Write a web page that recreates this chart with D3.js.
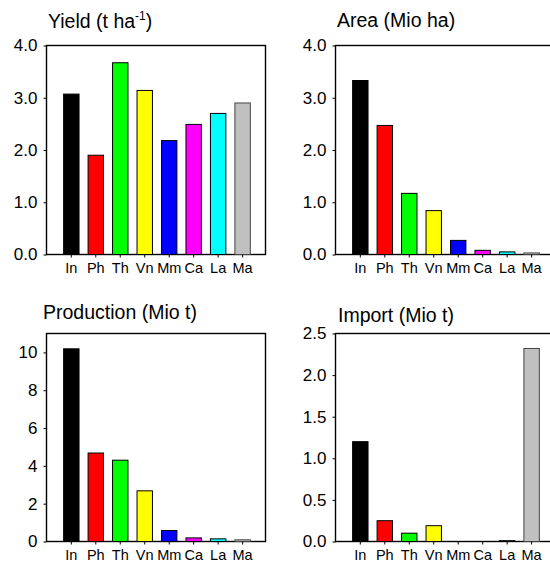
<!DOCTYPE html>
<html>
<head>
<meta charset="utf-8">
<script src="https://cdn.jsdelivr.net/npm/d3@7"></script>
<style>
  body { margin: 0; background: #fff; }
  svg { font-family: "Liberation Sans", Arial, sans-serif; }
  .axis path, .axis line { stroke: #000; }
</style>
</head>
<body>
<svg id="chart" width="550" height="569"></svg>
<script>
// categories and colours
var crops = ["In", "Ph", "Th", "Vn", "Mm", "Ca", "La", "Ma"];
var cropColors = ["#000000", "#ff0000", "#00ff00", "#ffff00", "#0000ff", "#ff00ff", "#00ffff", "#c0c0c0"];

// values
var yieldVals = [3.07, 1.90, 3.67, 3.14, 2.18, 2.49, 2.70, 2.90];
var areaVals = [3.33, 2.47, 1.17, 0.84, 0.27, 0.08, 0.05, 0.03];
var productionVals = [10.19, 4.68, 4.30, 2.68, 0.58, 0.19, 0.14, 0.09];
var importVals = [1.20, 0.25, 0.10, 0.19, 0, 0, 0.01, 2.32];

// tick labels
var yieldTicks = [0, 1, 2, 3, 4];
var areaTicks = [0, 1, 2, 3, 4];
var productionTicks = [0, 2, 4, 6, 8, 10];
var importTicks = [0, 0.5, 1.0, 1.5, 2.0, 2.5];

var svg = d3.select("#chart");

function drawPanel(opt) {
    var g = svg.append("g");

    var x = d3.scaleBand()
        .domain(crops)
        .range([opt.left, opt.right])
        .paddingInner(0.37)
        .paddingOuter(0.66)
        .align(0.53);

    var y = d3.scaleLinear()
        .domain([0, opt.max])
        .range([opt.bottom, opt.top]);

    // frame
    g.append("rect")
        .attr("x", opt.left)
        .attr("y", opt.top)
        .attr("width", opt.right - opt.left)
        .attr("height", opt.bottom - opt.top)
        .attr("fill", "none")
        .attr("stroke", "#000")
        .attr("stroke-width", 1.4);

    // bars
    g.selectAll("rect.bar")
        .data(opt.values)
        .enter()
        .append("rect")
        .classed("bar", true)
        .attr("x", (d, i) => x(crops[i]))
        .attr("y", d => y(d))
        .attr("width", x.bandwidth())
        .attr("height", d => opt.bottom - y(d))
        .attr("fill", (d, i) => cropColors[i])
        .attr("stroke", (d, i) => i == 7 ? "#444" : "#000")
        .attr("stroke-width", 1);

    // y axis
    var yAxis = d3.axisLeft(y)
        .tickValues(opt.ticks)
        .tickSize(3)
        .tickPadding(6)
        .tickFormat(d3.format(opt.fmt));
    var ya = g.append("g")
        .attr("class", "axis")
        .attr("transform", "translate(" + opt.left + ",0)")
        .call(yAxis);
    ya.select(".domain").remove();
    ya.selectAll("text")
        .attr("font-size", 17)
        .attr("font-family", "Liberation Sans, Arial, sans-serif")
        .attr("fill", "#000");

    // x axis
    var xAxis = d3.axisBottom(x)
        .tickSize(3)
        .tickPadding(5);
    var xa = g.append("g")
        .attr("class", "axis")
        .attr("transform", "translate(0," + opt.bottom + ")")
        .call(xAxis);
    xa.select(".domain").remove();
    xa.selectAll("text")
        .attr("font-size", 14.5)
        .attr("font-family", "Liberation Sans, Arial, sans-serif")
        .attr("fill", "#000");

    // title
    var t = g.append("text")
        .attr("x", opt.titleX)
        .attr("y", opt.titleY)
        .attr("font-size", 19.5)
        .attr("fill", "#000")
        .text(opt.title);
    if (opt.sup) {
        t.append("tspan")
            .attr("font-size", 12)
            .attr("dy", -8)
            .text(opt.sup);
        t.append("tspan")
            .attr("dy", 8)
            .text(")");
    }
}

drawPanel({left: 46.5, right: 265.5, top: 45.5, bottom: 254.5, max: 4,
    values: yieldVals, ticks: yieldTicks, fmt: ".1f",
    title: "Yield (t ha", sup: "-1", titleX: 48, titleY: 28});

drawPanel({left: 335.5, right: 554.5, top: 45.5, bottom: 254.5, max: 4,
    values: areaVals, ticks: areaTicks, fmt: ".1f",
    title: "Area (Mio ha)", titleX: 337, titleY: 27});

drawPanel({left: 46.5, right: 265.5, top: 333.5, bottom: 541.5, max: 11,
    values: productionVals, ticks: productionTicks, fmt: "d",
    title: "Production (Mio t)", titleX: 43, titleY: 319});

drawPanel({left: 335.5, right: 554.5, top: 333.5, bottom: 541.5, max: 2.5,
    values: importVals, ticks: importTicks, fmt: ".1f",
    title: "Import (Mio t)", titleX: 338, titleY: 322});
</script>
</body>
</html>
